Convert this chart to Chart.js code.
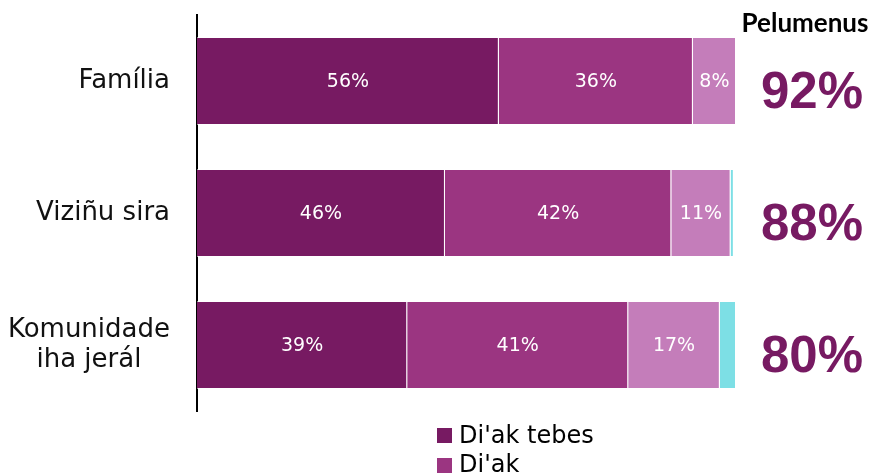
<!DOCTYPE html>
<html>
<head>
<meta charset="utf-8">
<script src="https://cdn.jsdelivr.net/npm/chart.js@4"></script>
<style>
  html, body { margin: 0; padding: 0; background: #fff; }
  #wrap { width: 875px; height: 474px; }
</style>
</head>
<body>
<div id="wrap"><canvas id="chart" width="875" height="474"></canvas></div>
<script>
const categories = [['Família'], ['Viziñu sira'], ['Komunidade', 'iha jerál']];
const diakTebes = [56, 46, 39];
const diak = [36, 42, 41];
const diakUitoan = [8, 11, 17];
const laDiak = [0, 0.6, 3];
const pelumenus = [92, 88, 80];
const seriesNames = ["Di'ak tebes", "Di'ak", "Di'ak uitoan", "La di'ak"];
const seriesColors = ['#771a62', '#9b3581', '#c47dba', '#7ddfe5'];

const labelsPlugin = {
  id: 'labels',
  afterDatasetsDraw(chart) {
    const { ctx, scales: { y } } = chart;
    ctx.save();

    // values inside the bars
    ctx.font = "19px 'DejaVu Sans'";
    ctx.fillStyle = '#fff';
    ctx.textAlign = 'center';
    ctx.textBaseline = 'middle';
    chart.data.datasets.forEach((ds, di) => {
      if (di > 2) return;
      chart.getDatasetMeta(di).data.forEach((bar, i) => {
        ctx.fillText(ds.data[i] + '%', (bar.x + bar.base) / 2, bar.y + 1);
      });
    });

    // category labels, lines centred within a right aligned block
    ctx.font = "26px 'DejaVu Sans'";
    ctx.fillStyle = '#111';
    categories.forEach((lines, i) => {
      const cy = y.getPixelForValue(i);
      const maxW = Math.max(...lines.map(l => ctx.measureText(l).width));
      const cx = 170 - maxW / 2;
      lines.forEach((l, k) => {
        ctx.fillText(l, cx, cy - (lines.length - 1) * 15 + k * 30);
      });
    });

    // totals on the right
    ctx.font = "bold 26px Lato";
    ctx.fillStyle = '#000';
    ctx.textBaseline = 'alphabetic';
    ctx.fillText('Pelumenus', 805, 32);
    ctx.font = "bold 51px 'Liberation Sans'";
    ctx.fillStyle = '#771a62';
    ctx.textBaseline = 'middle';
    pelumenus.forEach((v, i) => {
      ctx.fillText(v + '%', 812, y.getPixelForValue(i) + 13);
    });

    // legend (only the first two entries fit)
    ctx.font = "24px 'DejaVu Sans'";
    ctx.textAlign = 'left';
    ctx.textBaseline = 'alphabetic';
    [0, 1].forEach(k => {
      ctx.fillStyle = seriesColors[k];
      ctx.fillRect(437, 428 + k * 30, 15, 15);
      ctx.fillStyle = '#000';
      ctx.fillText(seriesNames[k], 459, 443 + k * 29);
    });
    ctx.restore();
  }
};

const values = [diakTebes, diak, diakUitoan, laDiak];
new Chart(document.getElementById('chart'), {
  type: 'bar',
  data: {
    labels: categories,
    datasets: values.map((d, i) => ({
      label: seriesNames[i],
      data: d,
      backgroundColor: seriesColors[i],
      borderColor: 'rgba(255,255,255,0.55)',
      borderWidth: 1,
      barPercentage: 0.667,
      categoryPercentage: 1
    }))
  },
  options: {
    indexAxis: 'y',
    responsive: false, animation: false,
    layout: { padding: { top: 15, right: 139, bottom: 63, left: 0 } },
    plugins: { legend: { display: false }, tooltip: { enabled: false } },
    scales: {
      x: { stacked: true, min: 0, max: 100, display: false },
      y: { stacked: true, grid: { display: false, drawTicks: false },
        border: { display: true, color: '#000', width: 2 },
        ticks: { display: false },
        afterFit: s => { s.width = 197; } }
    }
  },
  plugins: [labelsPlugin]
});
</script>
</body>
</html>
